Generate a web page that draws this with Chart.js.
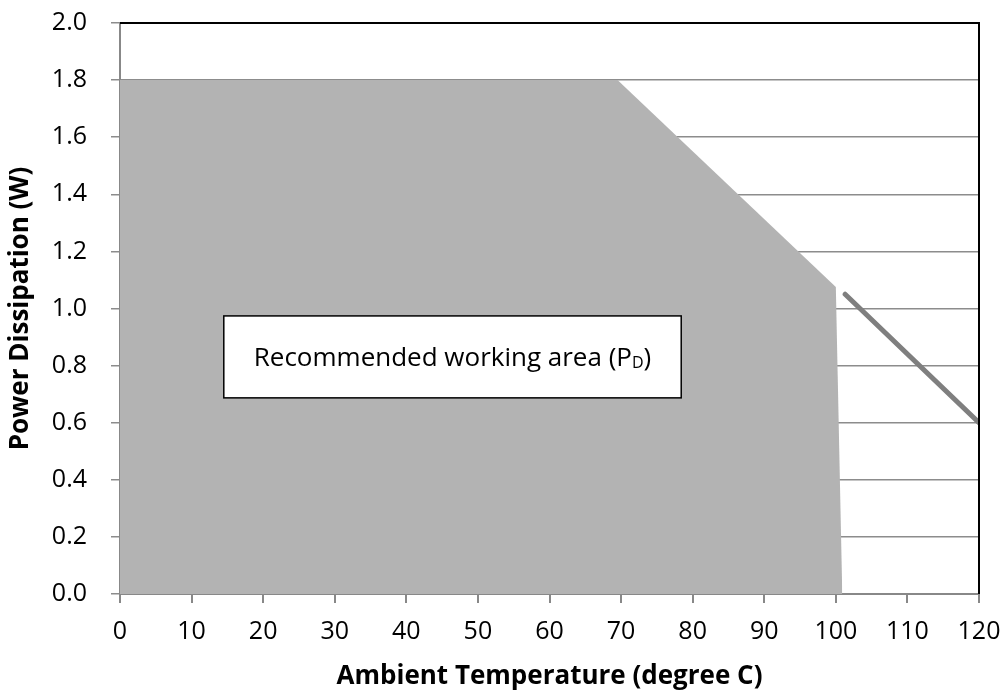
<!DOCTYPE html>
<html><head><meta charset="utf-8">
<script src="https://cdn.jsdelivr.net/npm/chart.js@4.4.1/dist/chart.umd.min.js"></script>
<style>html,body{margin:0;padding:0;background:#fff}#wrap{width:1002px;height:693px}</style>
</head><body><div id="wrap"><canvas id="c" width="1002" height="693"></canvas></div>
<script>
// Data
const areaTemps = [0, 69.5, 100, 100.9];
const areaPower = [1.8, 1.8, 1.075, 0];
const lineTemps = [101.3, 120];
const linePower = [1.05, 0.6];
const xTicks = [0,10,20,30,40,50,60,70,80,90,100,110,120];
const yTicks = [0.0,0.2,0.4,0.6,0.8,1.0,1.2,1.4,1.6,1.8,2.0];
const xTitle = 'Ambient Temperature (degree C)';
const yTitle = 'Power Dissipation (W)';
const boxText = 'Recommended working area (P';
const boxSub = 'D';
const boxEnd = ')';

const FONT = "'Open Sans', 'Liberation Sans', sans-serif";

const framePlugin = {
  id: 'frame',
  afterDatasetsDraw(chart) {
    const {ctx, chartArea: a, scales} = chart;
    ctx.save();
    // top and right border
    ctx.strokeStyle = '#000';
    ctx.lineWidth = 2;
    ctx.beginPath();
    ctx.moveTo(a.left, a.top);
    ctx.lineTo(a.right, a.top);
    ctx.lineTo(a.right, a.bottom);
    ctx.stroke();
    // annotation box
    const x0 = scales.x.getPixelForValue(14.5), x1 = scales.x.getPixelForValue(78.4);
    const y0 = scales.y.getPixelForValue(0.974), y1 = scales.y.getPixelForValue(0.687);
    ctx.fillStyle = '#fff';
    ctx.fillRect(x0, y0, x1 - x0, y1 - y0);
    ctx.strokeStyle = '#000';
    ctx.lineWidth = 1.5;
    ctx.strokeRect(x0, y0, x1 - x0, y1 - y0);
    const main = "26px " + FONT, sub = "16px " + FONT;
    ctx.font = main; const w1 = ctx.measureText(boxText).width; const w3 = ctx.measureText(boxEnd).width;
    ctx.font = sub; const w2 = ctx.measureText(boxSub).width;
    let tx = (x0 + x1) / 2 - (w1 + w2 + w3) / 2;
    const ty = (y0 + y1) / 2 + 9;
    ctx.fillStyle = '#000';
    ctx.textBaseline = 'alphabetic';
    ctx.textAlign = 'left';
    ctx.font = main; ctx.fillText(boxText, tx, ty); tx += w1;
    ctx.font = sub; ctx.fillText(boxSub, tx, ty + 2); tx += w2;
    ctx.font = main; ctx.fillText(boxEnd, tx, ty);
    ctx.restore();
  }
};

new Chart(document.getElementById('c'), {
  type: 'scatter',
  data: {
    datasets: [
      {
        data: areaTemps.map((t, i) => ({x: t, y: areaPower[i]})),
        showLine: true, fill: 'origin', backgroundColor: '#b3b3b3',
        borderColor: '#b3b3b3', borderWidth: 0, pointRadius: 0, tension: 0
      },
      {
        data: lineTemps.map((t, i) => ({x: t, y: linePower[i]})),
        showLine: true, fill: false, borderColor: '#7f7f7f',
        borderWidth: 5, borderCapStyle: 'round', pointRadius: 0, tension: 0
      }
    ]
  },
  options: {
    responsive: false, animation: false, devicePixelRatio: 1,
    layout: {padding: {left: 0, top: 23, right: 23, bottom: 0}},
    plugins: {legend: {display: false}, tooltip: {enabled: false}},
    scales: {
      x: {
        type: 'linear', min: 0, max: 120,
        afterBuildTicks: s => { s.ticks = xTicks.map(v => ({value: v})); },
        afterFit: s => { s.height = 99; s.paddingLeft = 0; s.paddingRight = 0; s.paddingTop = 0; s.paddingBottom = 0; },
        ticks: {color: '#000', font: {size: 25, family: FONT}, padding: 14, maxRotation: 0,
                callback: v => String(v)},
        grid: {drawOnChartArea: false, drawTicks: true, tickLength: 9, color: '#888', lineWidth: 2},
        border: {color: '#888', width: 2},
        title: {display: true, text: xTitle, color: '#000', font: {size: 26, weight: 'bold', family: FONT}, padding: {top: 0, bottom: 1}}
      },
      y: {
        type: 'linear', min: 0, max: 2,
        afterBuildTicks: s => { s.ticks = yTicks.map(v => ({value: v})); },
        afterFit: s => { s.width = 120; s.paddingLeft = 0; s.paddingRight = 0; s.paddingTop = 0; s.paddingBottom = 0; },
        ticks: {color: '#000', font: {size: 25, family: FONT}, padding: 24,
                callback: v => Number(v).toFixed(1)},
        grid: {drawTicks: true, tickLength: 9, color: '#8c8c8c', lineWidth: 1.5},
        border: {color: '#888', width: 2},
        title: {display: true, text: yTitle, color: '#000', font: {size: 26, weight: 'bold', family: FONT}, padding: {top: 5, bottom: 0}}
      }
    }
  },
  plugins: [framePlugin]
});
</script></body></html>
